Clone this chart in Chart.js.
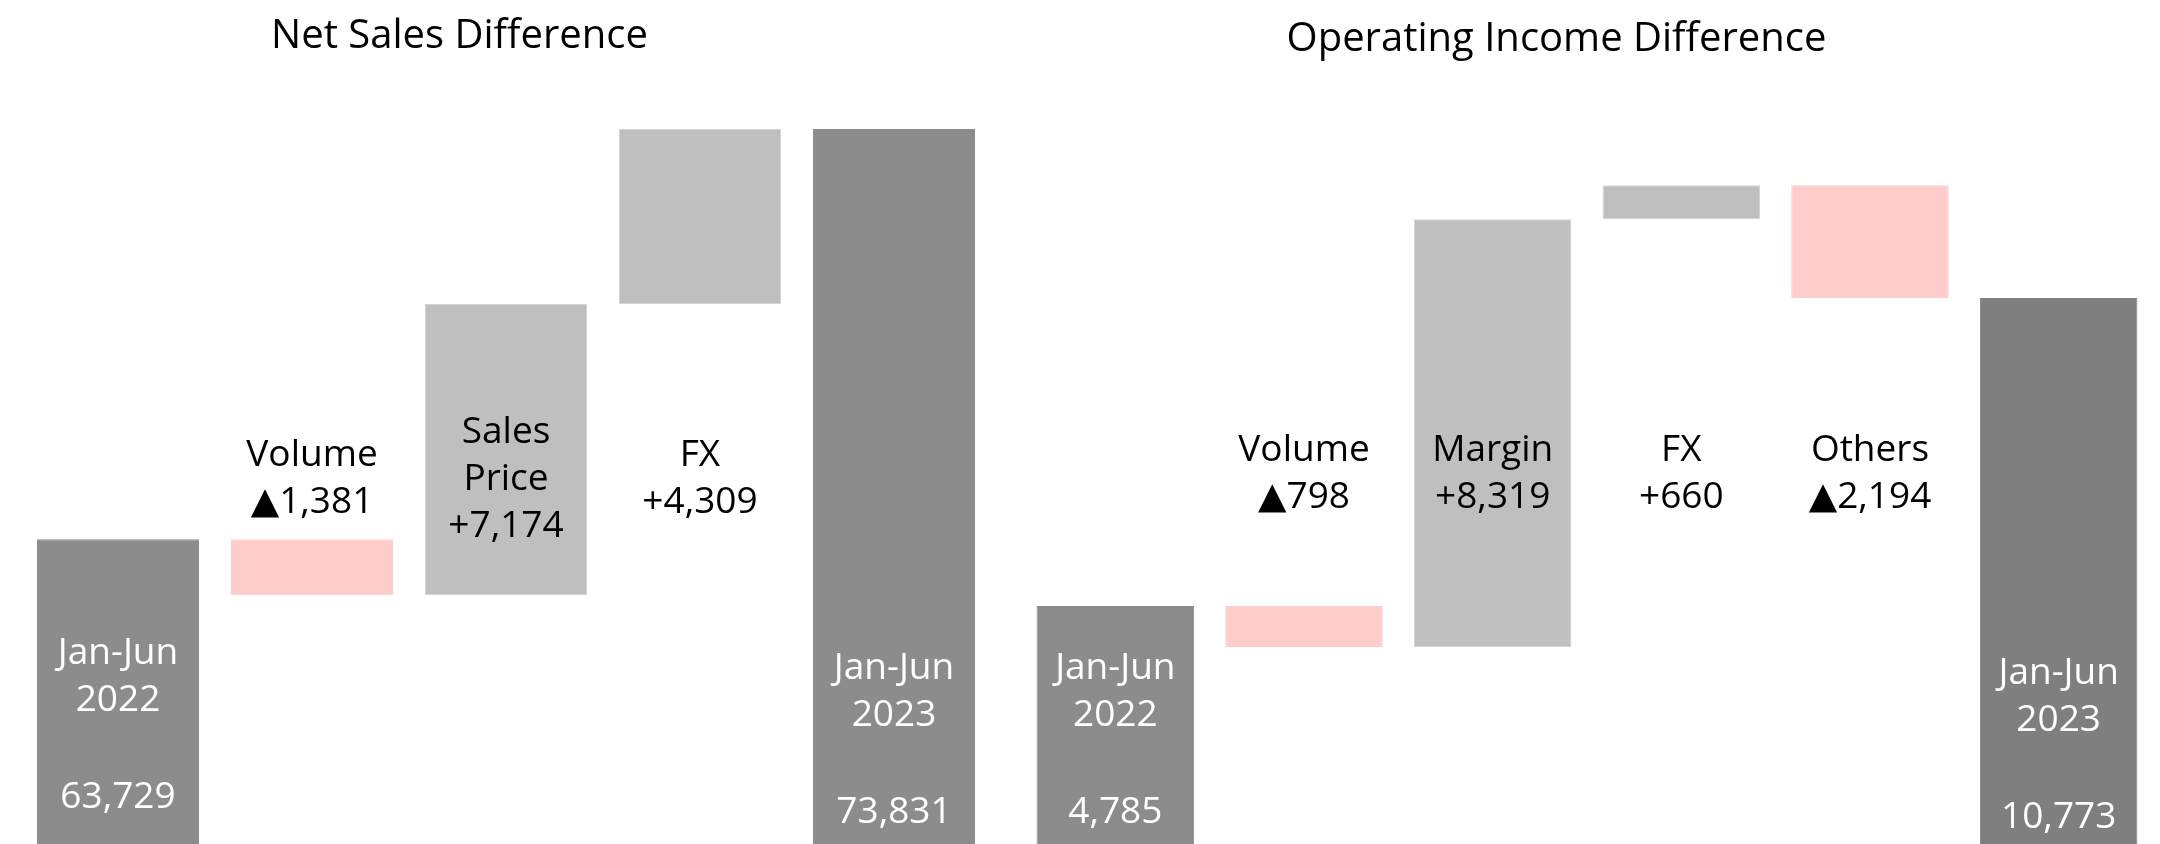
<!DOCTYPE html>
<html>
<head>
<meta charset="utf-8">
<title>Net Sales / Operating Income Difference</title>
<script src="https://cdn.jsdelivr.net/npm/chart.js@4.4.1/dist/chart.umd.min.js"></script>
<style>
  html, body { margin: 0; padding: 0; background: #fff; width: 2160px; height: 844px; overflow: hidden; }
  .wrap { position: absolute; top: 0; }
  #salesWrap { left: -72px; }
  #incomeWrap { left: 960px; }
</style>
</head>
<body>
<div class="wrap" id="salesWrap"><canvas id="salesChart" width="1063" height="853"></canvas></div>
<div class="wrap" id="incomeWrap"><canvas id="incomeChart" width="1193" height="852"></canvas></div>
<script>
// Net sales bridge (million yen)
const salesCategories = [["Jan-Jun", "2022"], "Volume", ["Sales", "Price"], "FX", ["Jan-Jun", "2023"]];
const salesValues = [63729, -1381, 7174, 4309, 73831];
const salesTotals = [true, false, false, false, true];

// Operating income bridge
const incomeCategories = [["Jan-Jun", "2022"], "Volume", "Margin", "FX", "Others", ["Jan-Jun", "2023"]];
const incomeValues = [4785, -798, 8319, 660, -2194, 10773];
const incomeTotals = [true, false, false, false, false, true];

const FONT = "'Open Sans', 'DejaVu Sans', sans-serif";

// turn the deltas into floating [start, end] bars
function buildSteps(values, totals) {
  let running = 0;
  return values.map((v, i) => {
    if (totals[i]) {
      running = v;
      return [0, v];
    }
    const start = running;
    running += v;
    return [start, running];
  });
}

function formatValue(v, isTotal) {
  const s = Math.abs(v).toLocaleString("en-US");
  if (isTotal) return s;
  return v < 0 ? "\u25B2" + s : "+" + s;
}

// writes the category name + value on every bar
const stepLabels = {
  id: "stepLabels",
  afterDatasetsDraw(chart, args, opts) {
    const ctx = chart.ctx;
    const bars = chart.getDatasetMeta(0).data;
    const cats = chart.data.labels;
    let t = 0;
    ctx.save();
    ctx.font = opts.size + "px " + FONT;
    ctx.textAlign = "center";
    ctx.textBaseline = "middle";
    bars.forEach((bar, i) => {
      const lines = [].concat(cats[i]);
      const x = bar.x;
      if (opts.totals[i]) {
        const y = opts.totalY[t++];
        ctx.fillStyle = "#ffffff";
        lines.forEach((l, j) => ctx.fillText(l, x, y + j * opts.lineHeight));
        ctx.fillText(formatValue(opts.values[i], true), x, y + (lines.length - 1) * opts.lineHeight + opts.valueGap);
      } else {
        lines.push(formatValue(opts.values[i], false));
        const y0 = opts.stepY - (lines.length - 1) * opts.lineHeight / 2;
        ctx.fillStyle = "#000000";
        lines.forEach((l, j) => ctx.fillText(l, x, y0 + j * opts.lineHeight));
      }
    });
    ctx.restore();
  }
};

function makeChart(id, cats, values, totals, cfg) {
  let t = 0;
  const bg = [];
  const border = [];
  values.forEach((v, i) => {
    if (totals[i]) {
      const c = cfg.totalColors[t++];
      bg.push(c);
      border.push(c);
    } else if (v < 0) {
      bg.push("#ffcccc");
      border.push("#ffcccc");
    } else {
      bg.push("#bfbfbf");
      border.push("#d4d4d4");
    }
  });

  return new Chart(document.getElementById(id), {
    type: "bar",
    data: {
      labels: cats,
      datasets: [{
        data: buildSteps(values, totals),
        backgroundColor: bg,
        borderColor: border,
        borderWidth: 1,
        borderSkipped: false,
        barPercentage: 0.835,
        categoryPercentage: 1
      }]
    },
    options: {
      responsive: false,
      animation: false,
      layout: { padding: 0 },
      plugins: {
        legend: { display: false },
        tooltip: { enabled: false },
        title: {
          display: true,
          text: cfg.title,
          color: "#000000",
          font: { family: FONT, size: 40, weight: "normal", lineHeight: 1.2 },
          padding: { top: cfg.titleTop, bottom: cfg.titleBottom }
        },
        stepLabels: {
          values: values,
          totals: totals,
          size: 37,
          lineHeight: 47,
          valueGap: 97,
          stepY: cfg.stepY,
          totalY: cfg.totalY
        }
      },
      scales: {
        x: { display: false },
        y: {
          min: cfg.min,
          max: cfg.max,
          ticks: { display: false },
          grid: { display: false },
          border: { display: false },
          afterFit: (scale) => { scale.width = cfg.axisWidth; }
        }
      }
    },
    plugins: [stepLabels]
  });
}

makeChart("salesChart", salesCategories, salesValues, salesTotals, {
  title: "Net Sales Difference",
  min: 56000,
  max: 75000,
  axisWidth: 93,
  titleTop: 13,
  titleBottom: 20.6,
  stepY: 479,
  totalY: [653, 668],
  totalColors: ["#8c8c8c", "#8c8c8c"]
});

makeChart("incomeChart", incomeCategories, incomeValues, incomeTotals, {
  title: "Operating Income Difference",
  min: 0,
  max: 15000,
  axisWidth: 61,
  titleTop: 16,
  titleBottom: 16.6,
  stepY: 474,
  totalY: [668, 673],
  totalColors: ["#8c8c8c", "#7f7f7f"]
});
</script>
</body>
</html>
